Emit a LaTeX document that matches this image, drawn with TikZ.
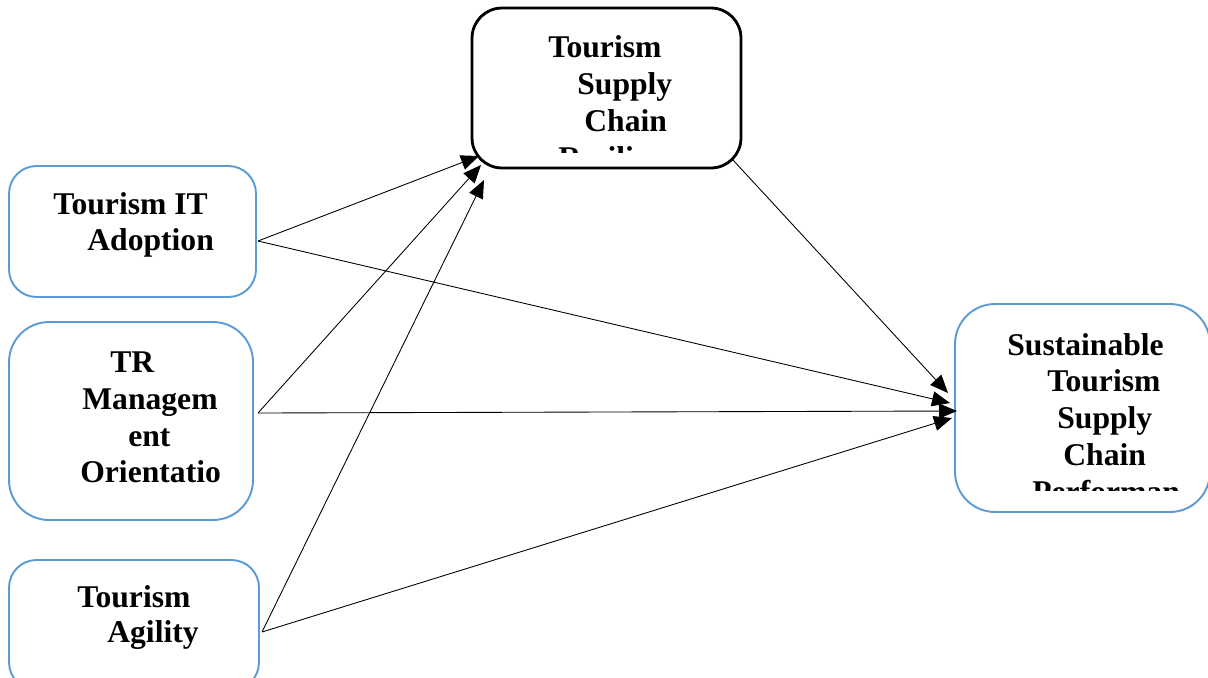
\documentclass[tikz,border=0pt]{standalone}
\usepackage{fontspec}
\setmainfont{Liberation Serif}
\usepackage{tikz}
\usetikzlibrary{arrows.meta,positioning}
\definecolor{boxblue}{RGB}{91,155,213}
\tikzstyle{arrow} = [line width=0.5pt,-{Triangle[length=0.36cm,width=0.3cm]},color=black]
\tikzstyle{varbox} = [rectangle, rounded corners=0.55cm, draw=boxblue, line width=1.1pt, inner sep=0pt]
\tikzstyle{medbox} = [rectangle, rounded corners=0.6cm, draw=black, line width=1.6pt, inner sep=0pt]
\tikzstyle{txt} = [anchor=base west, inner sep=0pt, font=\fontsize{18}{21.6}\selectfont\bfseries]

\begin{document}
\begin{tikzpicture}[x=0.02cm, y=-0.02cm]
\useasboundingbox (0,0) rectangle (1208,677);

% boxes
\node[medbox, minimum width=5.38cm, minimum height=3.2cm] (res) at (606.5,88) {};
\node[varbox, minimum width=4.94cm, minimum height=2.62cm] (it) at (132.5,231.5) {};
\node[varbox, minimum width=4.88cm, minimum height=3.96cm, rounded corners=0.8cm] (tr) at (131,421) {};
\node[varbox, minimum width=5cm, minimum height=2.6cm] (ag) at (134,625) {};
\node[varbox, minimum width=5.1cm, minimum height=4.16cm, rounded corners=0.8cm] (perf) at (1082.5,408) {};

% labels
\begin{scope}
\clip (472,8) rectangle (741,152);
\node[txt] (res1) at (548,57) {Tourism};
\node[txt] (res2) at (577,94) {Supply};
\node[txt] (res3) at (584,131) {Chain};
\node[txt] (res4) at (558,168) {Resilience};
\end{scope}
\node[txt] (it1) at (53,214) {Tourism IT};
\node[txt] (it2) at (87,250) {Adoption};
\node[txt] (tr1) at (110,372) {TR};
\node[txt] (tr2) at (82,409) {Managem};
\node[txt] (tr3) at (128,446) {ent};
\node[txt] (tr4) at (80,482) {Orientatio};
\node[txt] (ag1) at (77,607) {Tourism};
\node[txt] (ag2) at (107,642) {Agility};
\begin{scope}
\clip (955,304) rectangle (1179,490);
\node[txt] (perf1) at (1007,355) {Sustainable};
\node[txt] (perf2) at (1047,391) {Tourism};
\node[txt] (perf3) at (1057,428) {Supply};
\node[txt] (perf4) at (1063,465) {Chain};
\node[txt] (perf5) at (1032,502) {Performance};
\end{scope}

% connection points
\coordinate (itout) at (258,241);
\coordinate (trout) at (258,413);
\coordinate (agout) at (262,632);
\coordinate (resout) at (733,160);
\coordinate (resin1) at (479,156);
\coordinate (resin2) at (481,165);
\coordinate (resin3) at (484,180);
\coordinate (perfin1) at (948,393);
\coordinate (perfin2) at (950,403);
\coordinate (perfin3) at (957,411);
\coordinate (perfin4) at (952,418);

\draw[arrow] (itout) -- (resin1);
\draw[arrow] (trout) -- (resin2);
\draw[arrow] (agout) -- (resin3);
\draw[arrow] (resout) -- (perfin1);
\draw[arrow] (itout) -- (perfin2);
\draw[arrow] (trout) -- (perfin3);
\draw[arrow] (agout) -- (perfin4);
\end{tikzpicture}
\end{document}
